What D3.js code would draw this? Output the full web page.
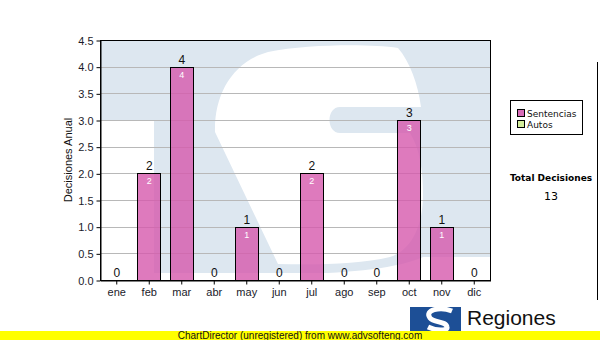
<!DOCTYPE html>
<html lang="es">
<head>
<meta charset="UTF-8">
<title>Decisiones Anual</title>
<style>
  body { margin: 0; padding: 0; background: #fff; }
  svg { display: block; font-family: "Liberation Sans", Arial, sans-serif; }
</style>
<script src="https://d3js.org/d3.v7.min.js"></script>
</head>
<body>
<script>
// datos
const months = ["ene", "feb", "mar", "abr", "may", "jun", "jul", "ago", "sep", "oct", "nov", "dic"];
const sentencias = [0, 2, 4, 0, 1, 0, 2, 0, 0, 3, 1, 0];
const autos = [0, 0, 0, 0, 0, 0, 0, 0, 0, 0, 0, 0];
const yTicks = [0, 0.5, 1, 1.5, 2, 2.5, 3, 3.5, 4, 4.5];
const legendNames = ["Sentencias", "Autos"];
const totalLabel = "Total Decisiones";

const width = 600, height = 340;
const plot = { left: 100, top: 40, right: 490, bottom: 280 };

const svg = d3.select("body").append("svg")
  .attr("width", width)
  .attr("height", height);

const x = d3.scaleBand()
  .domain(months)
  .range([plot.left, plot.right])
  .paddingInner(0.3)
  .paddingOuter(0.15);

const y = d3.scaleLinear()
  .domain([0, 4.5])
  .range([plot.bottom, plot.top]);

// fondo con marca de agua (logotipo)
svg.append("clipPath").attr("id", "plotclip")
  .append("rect")
  .attr("x", plot.left).attr("y", plot.top)
  .attr("width", plot.right - plot.left).attr("height", plot.bottom - plot.top);

const bg = svg.append("g").attr("clip-path", "url(#plotclip)");
bg.append("rect")
  .attr("x", plot.left).attr("y", plot.top)
  .attr("width", plot.right - plot.left).attr("height", plot.bottom - plot.top)
  .attr("fill", "#dde7f0");
const watermarkWhite = [
  "M98,120 L154,120 L154,282 L98,282 Z",
  "M154,273 L492,273 L492,282 L154,282 Z",
  "M300,274 C350,273 400,268 423,257 L492,257 L492,282 L300,282 Z",
  "M215,132 C214,95 232,62 268,52 C310,44 370,44 398,48 C410,62 418,84 421,107 L340,107 " +
  "C326,107 326,133 340,133 L410,133 C420,150 423,170 423,195 C423,225 412,250 390,257 " +
  "C360,264 320,265 278,264 Z"
];
bg.selectAll("path.wm")
  .data(watermarkWhite)
  .join("path")
  .attr("class", "wm")
  .attr("d", d => d)
  .attr("fill", "#fff");

// rejilla
svg.append("g")
  .selectAll("line")
  .data(yTicks.filter(d => d > 0 && d < 4.5))
  .join("line")
  .attr("x1", plot.left).attr("x2", plot.right)
  .attr("y1", d => Math.round(y(d)) + 0.5).attr("y2", d => Math.round(y(d)) + 0.5)
  .attr("stroke", "#b8b8b8")
  .attr("stroke-width", 1);

// barras
const bars = months.map((m, i) => ({ m, v: sentencias[i] }));
svg.append("g")
  .selectAll("rect")
  .data(bars.filter(d => d.v > 0))
  .join("rect")
  .attr("x", d => Math.round(x(d.m)) + 0.5)
  .attr("y", d => Math.round(y(d.v)) + 0.5)
  .attr("width", Math.round(x.bandwidth()))
  .attr("height", d => Math.round(y(0)) - Math.round(y(d.v)))
  .attr("fill", "#d659ad")
  .attr("fill-opacity", 0.8)
  .attr("stroke", "#000")
  .attr("stroke-width", 1);

// etiquetas de valor
svg.append("g")
  .selectAll("text")
  .data(bars)
  .join("text")
  .attr("x", d => x(d.m) + x.bandwidth() / 2 + 0.5)
  .attr("y", d => y(d.v) - 3)
  .attr("text-anchor", "middle")
  .attr("font-size", 12)
  .attr("fill", "#111")
  .text(d => d.v);

svg.append("g")
  .selectAll("text")
  .data(bars.filter(d => d.v > 0))
  .join("text")
  .attr("x", d => x(d.m) + x.bandwidth() / 2 + 0.5)
  .attr("y", d => y(d.v) + 11)
  .attr("text-anchor", "middle")
  .attr("font-size", 9)
  .attr("fill", "#fff")
  .text(d => d.v);

// marco del área de trazado
svg.append("rect")
  .attr("x", plot.left + 0.5).attr("y", plot.top + 0.5)
  .attr("width", plot.right - plot.left).attr("height", plot.bottom - plot.top)
  .attr("fill", "none")
  .attr("stroke", "#000");

// ejes
const yAxis = svg.append("g")
  .attr("transform", `translate(${plot.left + 0.5},0.5)`)
  .call(d3.axisLeft(y).tickValues(yTicks).tickFormat(d3.format(".1f")).tickSize(4).tickSizeOuter(0));
yAxis.selectAll("text").attr("font-size", 11).attr("fill", "#1a1a2a").attr("font-family", "Liberation Sans");
yAxis.select(".domain").attr("stroke", "#000");

const xAxis = svg.append("g")
  .attr("transform", `translate(0.5,${plot.bottom + 0.5})`)
  .call(d3.axisBottom(x).tickSize(4).tickSizeOuter(0).tickPadding(4));
xAxis.selectAll("text").attr("font-size", 11).attr("fill", "#1a1a2a").attr("font-family", "Liberation Sans");
xAxis.select(".domain").attr("stroke", "#000");

svg.append("text")
  .attr("transform", "translate(72,160) rotate(-90)")
  .attr("text-anchor", "middle")
  .attr("font-size", 11)
  .attr("fill", "#111")
  .text("Decisiones Anual");

// leyenda
const legendColors = ["#d86cb8", "#d4ee9c"];
const lg = svg.append("g").attr("font-family", "DejaVu Sans").attr("font-size", 9);
lg.append("rect")
  .attr("x", 510.5).attr("y", 100.5).attr("width", 72).attr("height", 34)
  .attr("fill", "#fff").attr("stroke", "#000");
legendNames.forEach((n, i) => {
  lg.append("rect")
    .attr("x", 517.5).attr("y", 109.5 + i * 11).attr("width", 7).attr("height", 7)
    .attr("fill", legendColors[i]).attr("stroke", "#000");
  lg.append("text")
    .attr("x", 527).attr("y", 117 + i * 11)
    .attr("fill", "#111")
    .text(n);
});

svg.append("text")
  .attr("x", 551).attr("y", 181)
  .attr("text-anchor", "middle")
  .attr("font-family", "DejaVu Sans")
  .attr("font-weight", "bold")
  .attr("font-size", 9)
  .text(totalLabel);
svg.append("text")
  .attr("x", 551).attr("y", 200)
  .attr("text-anchor", "middle")
  .attr("font-family", "DejaVu Sans")
  .attr("font-size", 11)
  .text(d3.sum(sentencias) + d3.sum(autos));

// linea derecha
svg.append("line")
  .attr("x1", 597.5).attr("x2", 597.5).attr("y1", 62).attr("y2", 300)
  .attr("stroke", "#000");

// logotipo
const logo = svg.append("g");
logo.append("rect").attr("x", 410).attr("y", 307).attr("width", 51).attr("height", 24).attr("fill", "#1d4f96");
logo.append("path")
  .attr("d", "M452,311 C440,306 424,310 430,318 C434,323 446,321 447,327 C448,331 436,331 428,327")
  .attr("fill", "none").attr("stroke", "#fff").attr("stroke-width", 5);
logo.append("text")
  .attr("x", 467).attr("y", 325)
  .attr("font-size", 21)
  .attr("fill", "#111")
  .text("Regiones");

// banda amarilla
svg.append("rect").attr("x", 0).attr("y", 331).attr("width", width).attr("height", 9).attr("fill", "#ffff00");
svg.append("text")
  .attr("x", 300).attr("y", 339)
  .attr("text-anchor", "middle")
  .attr("font-size", 10)
  .attr("fill", "#111")
  .text("ChartDirector (unregistered) from www.advsofteng.com");
</script>
</body>
</html>
